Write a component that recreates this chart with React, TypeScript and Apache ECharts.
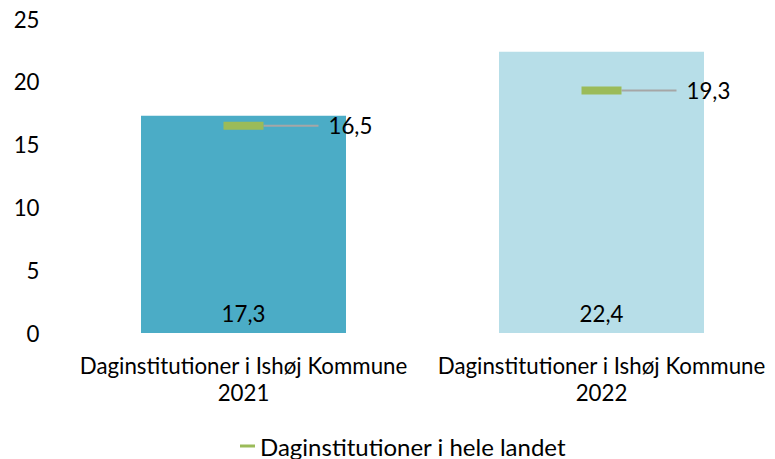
import React, { useEffect, useRef } from "react";
import * as echarts from "echarts";

const categories = [
  "Daginstitutioner i Ishøj Kommune\n2021",
  "Daginstitutioner i Ishøj Kommune\n2022",
];
const barValues = [17.3, 22.4];
const barColors = ["#4BACC6", "#B7DEE8"];
const nationalName = "Daginstitutioner i hele landet";
const nationalValues = [16.5, 19.3];
const yTicks = { min: 0, max: 25, interval: 5 };

const FONT = "Lato";
const FS = 22.3;
const fmt = (v: number) => v.toFixed(1).replace(".", ",");

export default function App() {
  const ref = useRef<HTMLDivElement>(null);
  useEffect(() => {
    if (!ref.current) return;
    const chart = echarts.init(ref.current, undefined, { renderer: "svg" });
    const gridLeft = 64.5;
    const gridWidth = 775 - gridLeft;
    const catWidth = 358;
    const xMin = -0.5;
    const xMax = xMin + gridWidth / catWidth;
    chart.setOption({
      animation: false,
      textStyle: { fontFamily: FONT },
      grid: { left: gridLeft, right: 0, top: 19, bottom: 126, containLabel: false },
      legend: {
        data: [{ name: nationalName, icon: "rect" }],
        left: 235,
        top: 429,
        itemWidth: 15,
        itemHeight: 3,
        itemGap: 5,
        textStyle: { fontFamily: FONT, fontSize: 24, color: "#000" },
      },
      xAxis: {
        type: "value",
        min: xMin,
        max: xMax,
        splitLine: { show: false },
        axisLine: { show: false },
        axisTick: { show: false },
        axisLabel: {
          customValues: categories.map((_, i) => i),
          formatter: (v: number) => categories[Math.round(v)] ?? "",
          fontFamily: FONT,
          fontSize: FS,
          color: "#000",
          lineHeight: 27,
          margin: 19,
        },
      },
      yAxis: {
        type: "value",
        min: yTicks.min,
        max: yTicks.max,
        interval: yTicks.interval,
        splitLine: { show: false },
        axisLine: { show: false },
        axisTick: { show: false },
        axisLabel: { fontFamily: FONT, fontSize: FS, color: "#000", margin: 25 },
      },
      series: [
        {
          type: "bar",
          name: "Ishøj",
          barWidth: 205,
          data: barValues.map((v, i) => ({ value: [i, v], itemStyle: { color: barColors[i] } })),
          label: {
            show: true,
            position: "insideBottom",
            distance: 9,
            fontFamily: FONT,
            fontSize: FS,
            color: "#000",
            formatter: (p: any) => fmt(p.value[1]),
          },
          z: 1,
        },
        {
          type: "custom",
          name: nationalName,
          itemStyle: { color: "#9BBB59" },
          encode: { x: 0, y: 1 },
          data: nationalValues.map((v, i) => [i, v]),
          z: 5,
          renderItem: (params: any, api: any) => {
            const v = api.value(1);
            const pt = api.coord([api.value(0), v]);
            return {
              type: "group",
              children: [
                {
                  type: "line",
                  shape: { x1: pt[0] + 20, y1: pt[1], x2: pt[0] + 75, y2: pt[1] },
                  style: { stroke: "#A6A6A6", lineWidth: 2 },
                },
                {
                  type: "rect",
                  shape: { x: pt[0] - 20, y: pt[1] - 4, width: 40, height: 8 },
                  style: { fill: "#9BBB59" },
                },
                {
                  type: "text",
                  style: {
                    text: fmt(v),
                    x: pt[0] + 85,
                    y: pt[1],
                    fill: "#000",
                    fontSize: FS,
                    fontFamily: FONT,
                    align: "left",
                    verticalAlign: "middle",
                  },
                },
              ],
            };
          },
        },
      ],
    });
    return () => chart.dispose();
  }, []);
  return (
    <div
      ref={ref}
      style={{ position: "fixed", left: 0, top: 0, width: 775, height: 459, background: "#fff" }}
    />
  );
}
